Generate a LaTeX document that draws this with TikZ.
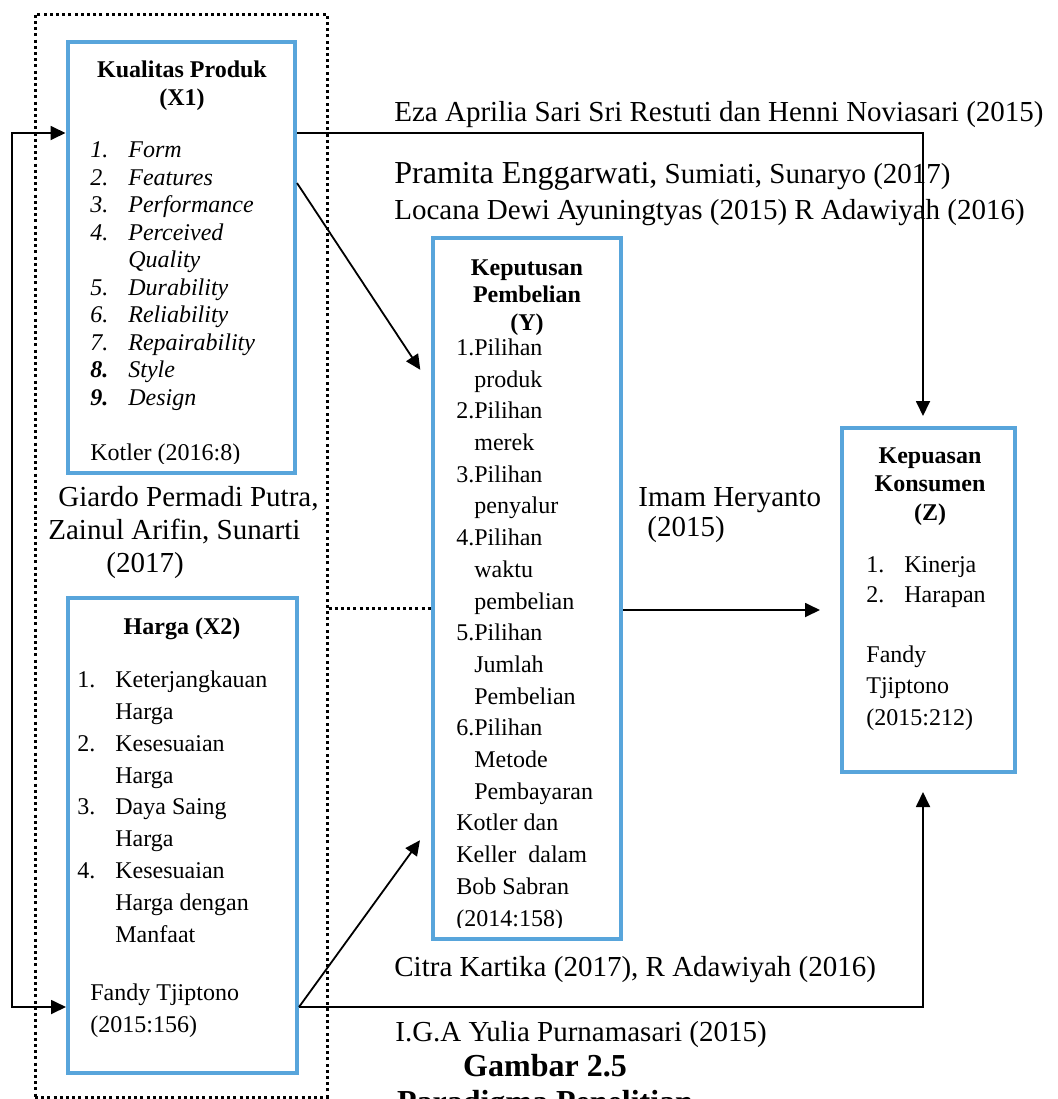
\documentclass[tikz,border=0pt]{standalone}
\usepackage{fontspec}
\setmainfont{Liberation Serif}
\usetikzlibrary{arrows.meta, positioning, fit}

\definecolor{boxblue}{RGB}{88,165,219}
\newcommand{\numlbl}[2][19pt]{\makebox[#1][l]{#2}}

\begin{document}
\begin{tikzpicture}[
    x=0.5pt, y=-0.5pt, % one unit is one pixel of the page
    >={Triangle[length=7.5pt,width=7pt]}, % filled arrow heads
    varbox/.style={draw=boxblue, line width=2pt, inner sep=0pt}, % blue variable boxes
    arr/.style={line width=0.9pt}, % connectors
    dotline/.style={line width=1.5pt, dash pattern=on 1.5pt off 1.6pt}, % square dots
    dotframe/.style={dotline, draw, inner sep=0pt},
    % multi-line texts are placed at the baseline of their last line
    boxtitle/.style={font=\bfseries\fontsize{12}{13.75}\selectfont, inner sep=0pt, align=center, anchor=base},
    boxtext/.style={font=\fontsize{12}{15.9}\selectfont, inner sep=0pt, align=left, anchor=base west},
    reftext/.style={font=\fontsize{14.5}{16.5}\selectfont, inner sep=0pt, align=left, anchor=base west},
    captext/.style={font=\bfseries\fontsize{16}{18}\selectfont, inner sep=0pt, anchor=base}
]
    \useasboundingbox (0,0) rectangle (1057,1099);
    \clip (0,0) rectangle (1057,1099);

    % Boxes
    \node[dotframe, fit={(35,14) (327,1097)}] (grup) {};
    \node[varbox, fit={(67.5,42) (295,473)}] (kualitas) {};
    \node[varbox, fit={(68,598) (297,1073)}] (harga) {};
    \node[varbox, fit={(433,238) (621,939)}] (keputusan) {};
    \node[varbox, fit={(842,428) (1015,772)}] (kepuasan) {};

    % Kualitas Produk (X1)
    \node[boxtitle] (ktitle) at (182,105) {Kualitas Produk\\(X1)};
    \begin{scope}
        \clip (69,44) rectangle (293,463);
        \node[boxtext, font=\itshape\fontsize{12}{13.75}\selectfont] (klist) at (90,405) {%
            \numlbl{1.}Form\\ \numlbl{2.}Features\\ \numlbl{3.}Performance\\
            \numlbl{4.}Perceived\\ \numlbl{}Quality\\ \numlbl{5.}Durability\\
            \numlbl{6.}Reliability\\ \numlbl{7.}Repairability\\
            \numlbl{\textbf{8.}}Style\\ \numlbl{\textbf{9.}}Design};
        \node[boxtext] (kref) at (90,460) {Kotler (2016:8)};
    \end{scope}

    % Harga (X2)
    \node[boxtitle] (htitle) at (182,634) {Harga (X2)};
    \node[boxtext] (hlist) at (77,942) {%
        \numlbl{1.}Keterjangkauan\\ \numlbl{}Harga\\
        \numlbl{2.}Kesesuaian\\ \numlbl{}Harga\\
        \numlbl{3.}Daya Saing\\ \numlbl{}Harga\\
        \numlbl{4.}Kesesuaian\\ \numlbl{}Harga dengan\\ \numlbl{}Manfaat};
    \node[boxtext, font=\fontsize{12}{16}\selectfont] (href) at (90,1032) {Fandy Tjiptono\\(2015:156)};

    % Keputusan Pembelian (Y)
    \node[boxtitle] (ytitle) at (527,330) {Keputusan\\Pembelian\\(Y)};
    \begin{scope}
        \clip (435,240) rectangle (619,927);
        \node[boxtext, font=\fontsize{12}{15.85}\selectfont] (ylist) at (456,926) {%
            1.Pilihan\\ \hspace*{9pt}produk\\ 2.Pilihan\\ \hspace*{9pt}merek\\
            3.Pilihan\\ \hspace*{9pt}penyalur\\ 4.Pilihan\\ \hspace*{9pt}waktu\\
            \hspace*{9pt}pembelian\\ 5.Pilihan\\ \hspace*{9pt}Jumlah\\
            \hspace*{9pt}Pembelian\\ 6.Pilihan\\ \hspace*{9pt}Metode\\
            \hspace*{9pt}Pembayaran\\ Kotler dan\\ Keller\ \ dalam\\
            Bob Sabran\\ (2014:158)};
    \end{scope}

    % Kepuasan Konsumen (Z)
    \node[boxtitle, font=\bfseries\fontsize{12}{14.25}\selectfont] (ztitle) at (930,520) {Kepuasan\\Konsumen\\(Z)};
    \node[boxtext, font=\fontsize{12}{15}\selectfont] (zlist) at (866,602) {\numlbl{1.}Kinerja\\ \numlbl{2.}Harapan};
    \node[boxtext, font=\fontsize{12}{15.75}\selectfont] (zref) at (866,725) {Fandy\\Tjiptono\\(2015:212)};

    % Sources along the lines
    \node[reftext] (rEza) at (394,121) {Eza Aprilia Sari Sri Restuti dan Henni Noviasari (2015)};
    \node[reftext] (rPramita) at (394,183) {{\fontsize{16}{16}\selectfont Pramita Enggarwati,} Sumiati, Sunaryo (2017)};
    \node[reftext] (rLocana) at (394,219) {Locana Dewi Ayuningtyas (2015) R Adawiyah (2016)};
    \node[reftext] (rGiardo) at (48,572) {\hspace*{5pt}Giardo Permadi Putra,\\Zainul Arifin, Sunarti\\\hspace*{29pt}(2017)};
    \node[reftext, font=\fontsize{14.5}{15}\selectfont] (rImam) at (638,536) {Imam Heryanto\\\hspace*{4.5pt}(2015)};
    \node[reftext] (rCitra) at (394,976) {Citra Kartika (2017), R Adawiyah (2016)};
    \node[reftext] (rIga) at (395,1041) {I.G.A Yulia Purnamasari (2015)};

    % Caption
    \node[captext] (cap1) at (545,1076) {Gambar 2.5};
    \node[captext] (cap2) at (545,1112) {Paradigma Penelitian};

    % Connectors
    \coordinate (fbA) at (12,133);
    \coordinate (fbB) at (12,1007);
    \coordinate (zx) at (923,0);
    \coordinate (k1) at (0,183);
    \coordinate (d1) at (0,386);
    \coordinate (d2) at (0,825);
    \coordinate (m1) at (0,610);
    \coordinate (m2) at (0,608);

    \draw[arr, <->] (kualitas.west |- fbA) -- (fbA) -- (fbB) -- (harga.west |- fbB);
    \draw[arr, ->, shorten >=5pt] (kualitas.east |- fbA) -| (zx |- kepuasan.north);
    \draw[arr, ->, shorten >=9pt] (harga.east |- fbB) -| (zx |- kepuasan.south);
    \draw[arr, ->, shorten >=9.7pt] (kualitas.east |- k1) -- (keputusan.west |- d1);
    \draw[arr, ->, shorten >=9.4pt] (harga.east |- fbB) -- (keputusan.west |- d2);
    \draw[arr, ->, shorten >=10pt] (keputusan.east |- m1) -- (kepuasan.west |- m1);
    \draw[dotline] (grup.east |- m2) -- (keputusan.west |- m2);

\end{tikzpicture}
\end{document}
